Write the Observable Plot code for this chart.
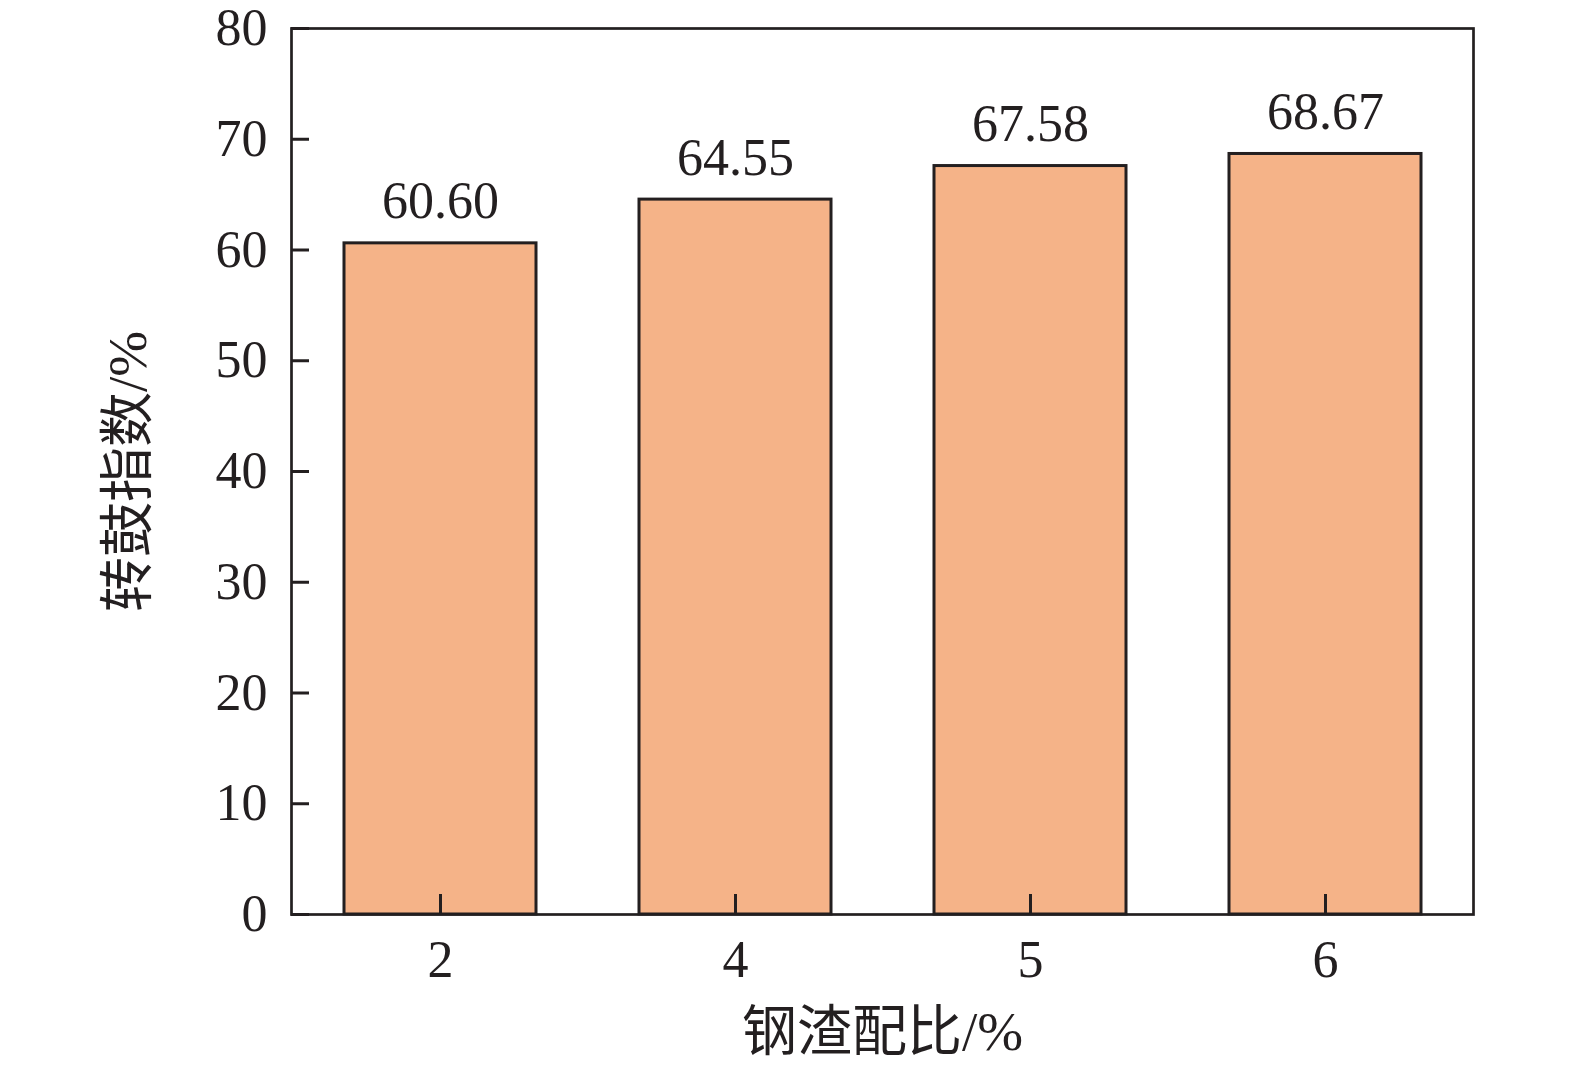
<!DOCTYPE html>
<html>
<head>
<meta charset="utf-8">
<script src="https://cdn.jsdelivr.net/npm/d3@7"></script>
<script src="https://cdn.jsdelivr.net/npm/@observablehq/plot@0.6"></script>
<style>
  html, body { margin: 0; padding: 0; background: #fff; }
  #chart { width: 1575px; height: 1067px; }
</style>
</head>
<body>
<div id="chart"></div>
<script>
const categories = ["2", "4", "5", "6"];
const values = [60.60, 64.55, 67.58, 68.67];
const valueLabels = ["60.60", "64.55", "67.58", "68.67"];
const yTicks = [0, 10, 20, 30, 40, 50, 60, 70, 80];
const xTitle = "钢渣配比/%";
const yTitle = "转鼓指数/%";

const data = categories.map((c, i) => ({cat: c, value: values[i], label: valueLabels[i]}));

const W = 1575, H = 1067;
const mL = 291, mR = 102, mT = 28, mB = 153;
const plotW = W - mL - mR, plotH = H - mT - mB;
const ink = "#231f20";
const font = "'Liberation Serif', 'Times New Roman', 'Noto Sans CJK SC', serif";

const chart = Plot.plot({
  width: W,
  height: H,
  marginLeft: mL,
  marginRight: mR,
  marginTop: mT,
  marginBottom: mB,
  style: {fontFamily: font, fontSize: "52px", color: ink, background: "#fff"},
  x: {type: "band", domain: categories, paddingInner: 0.35, paddingOuter: 0.175},
  y: {domain: [0, 80]},
  marks: [
    Plot.barY(data, {x: "cat", y: "value", fill: "#f5b388", stroke: ink, strokeWidth: 3}),
    Plot.text(data, {x: "cat", y: "value", text: "label", lineAnchor: "bottom", dy: -25, fill: ink, fontSize: 52}),
    Plot.tickY(yTicks, {y: d => d, stroke: ink, strokeWidth: 3, insetRight: plotW - 18}),
    Plot.tickX(categories, {x: d => d, stroke: ink, strokeWidth: 3, insetTop: plotH - 20}),
    Plot.axisY(yTicks, {tickSize: 0, tickPadding: 24, fontSize: 52, fill: ink, label: null}),
    Plot.axisX(categories, {tickSize: 0, tickPadding: 26, fontSize: 52, fill: ink, label: null}),
    Plot.frame({stroke: ink, strokeWidth: 2.7}),
    Plot.text([xTitle], {frameAnchor: "bottom", dy: 135, lineAnchor: "bottom", textAnchor: "middle", fontSize: 55, fill: ink}),
    Plot.text([yTitle], {frameAnchor: "left", dx: -163, rotate: -90, textAnchor: "middle", fontSize: 55, fill: ink})
  ]
});
document.getElementById("chart").appendChild(chart);
</script>
</body>
</html>
